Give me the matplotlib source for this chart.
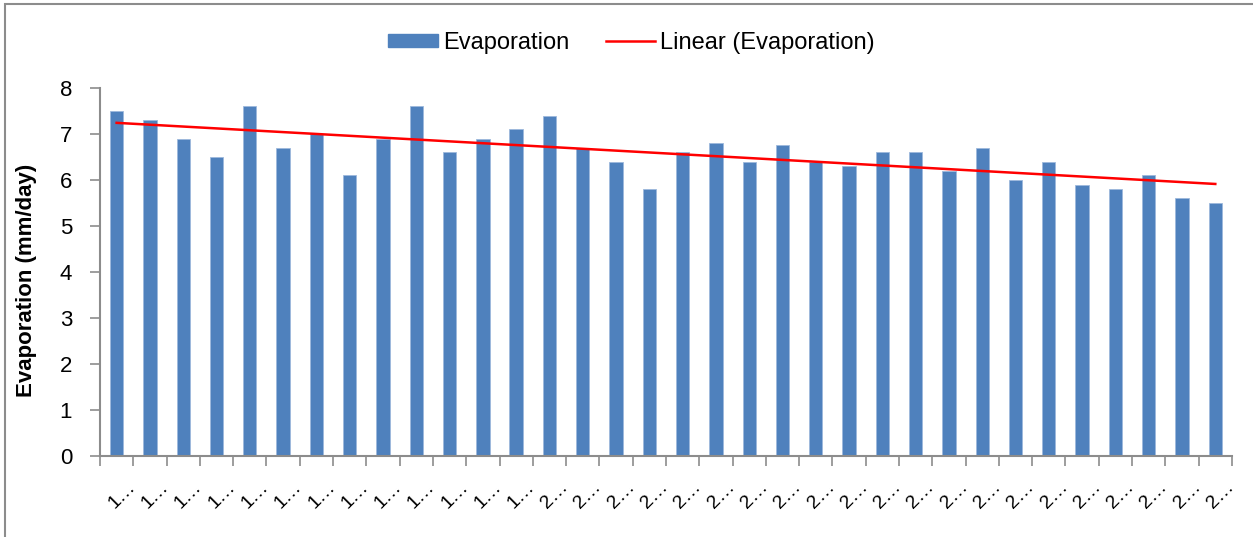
import numpy as np
import matplotlib.pyplot as plt
import matplotlib.transforms as mtrans
from matplotlib.patches import Rectangle
from matplotlib.lines import Line2D

plt.rcParams['font.family'] = ['Liberation Sans', 'DejaVu Sans']

# data (34 years, labels truncated as in the original)
labels = ['1…'] * 13 + ['2…'] * 21
evaporation = [7.5, 7.3, 6.9, 6.5, 7.6, 6.7, 7.0, 6.1, 6.9, 7.6, 6.6, 6.9, 7.1, 7.4,
               6.7, 6.4, 5.8, 6.6, 6.8, 6.4, 6.77, 6.4, 6.3, 6.6, 6.6, 6.2, 6.7, 6.0,
               6.4, 5.9, 5.8, 6.1, 5.6, 5.5]

x = np.arange(len(evaporation))
slope, inter = np.polyfit(x, evaporation, 1)
trend = slope * x + inter

fig = plt.figure(figsize=(12.53, 5.37), dpi=100)
ax = fig.add_axes([0.0798, 0.1508, 0.9034, 0.6853])

# chart area border
fig.patches.append(Rectangle((0.004, -0.05), 1.05, 1.042, transform=fig.transFigure,
                             fill=False, edgecolor='#8c8c8c', linewidth=1.5))

ax.bar(x, evaporation, width=0.4, color='#4F81BD', edgecolor='#9db9dc', linewidth=0.6)
ax.plot(x, trend, color='red', linewidth=1.8)

ax.set_xlim(-0.5, len(x) - 0.5)
ax.set_ylim(0, 8)
ax.set_yticks(range(0, 9))
ax.tick_params(axis='y', labelsize=16, length=7, color='#8c8c8c', width=1.2, pad=13)

ax.set_xticks(x)
ax.set_xticklabels(labels, rotation=45, ha='right', rotation_mode='anchor', fontsize=14)
ax.tick_params(axis='x', which='major', length=0, pad=16)
shift = mtrans.ScaledTranslation(0.1, 0, fig.dpi_scale_trans)
for lab in ax.get_xticklabels():
    lab.set_transform(lab.get_transform() + shift)
ax.set_xticks(np.arange(-0.5, len(x), 1), minor=True)
ax.tick_params(axis='x', which='minor', length=7, color='#8c8c8c', width=1.2)

for s in ['top', 'right']:
    ax.spines[s].set_visible(False)
for s in ['left', 'bottom']:
    ax.spines[s].set_color('#8c8c8c')
    ax.spines[s].set_linewidth(1.5)

ax.set_ylabel('Evaporation (mm/day)', fontsize=16, fontweight='bold')
ax.yaxis.set_label_coords(-0.056, 0.476)

handles = [Rectangle((0, 0), 1, 1, color='#4F81BD'),
           Line2D([0], [0], color='red', linewidth=1.8)]
fig.legend(handles, ['Evaporation', 'Linear (Evaporation)'], loc='center',
           bbox_to_anchor=(0.504, 0.92), ncol=2, frameon=False, fontsize=17,
           handlelength=2.1, handleheight=0.52, handletextpad=0.2, columnspacing=1.55)

fig.savefig('out.png', dpi=100)
